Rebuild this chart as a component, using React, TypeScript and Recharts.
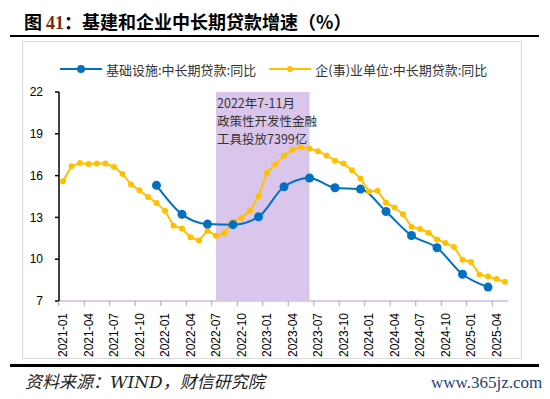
import React from "react";
import {
  LineChart,
  Line,
  XAxis,
  YAxis,
  ReferenceArea,
} from "recharts";

const months = [
  "2021-01", "2021-02", "2021-03", "2021-04", "2021-05", "2021-06",
  "2021-07", "2021-08", "2021-09", "2021-10", "2021-11", "2021-12",
  "2022-01", "2022-02", "2022-03", "2022-04", "2022-05", "2022-06",
  "2022-07", "2022-08", "2022-09", "2022-10", "2022-11", "2022-12",
  "2023-01", "2023-02", "2023-03", "2023-04", "2023-05", "2023-06",
  "2023-07", "2023-08", "2023-09", "2023-10", "2023-11", "2023-12",
  "2024-01", "2024-02", "2024-03", "2024-04", "2024-05", "2024-06",
  "2024-07", "2024-08", "2024-09", "2024-10", "2024-11", "2024-12",
  "2025-01", "2025-02", "2025-03", "2025-04", "2025-05",
];

// 企(事)业单位:中长期贷款:同比 (monthly)
const enterpriseLoans = [
  15.6, 16.67, 16.91, 16.84, 16.86, 16.86, 16.62, 16.12, 15.37, 14.94, 14.46, 14.04,
  13.47, 12.4, 12.2, 11.57, 11.34, 12.05, 11.69, 11.88, 12.69, 12.97, 13.47, 14.53,
  16.2, 16.84, 17.45, 17.85, 18.04, 17.95, 17.75, 17.45, 17.07, 16.86, 16.38, 15.79,
  14.85, 14.92, 14.06, 13.71, 13.23, 12.33, 12.17, 11.9, 11.41, 11.17, 10.87, 9.96,
  9.8, 8.9, 8.76, 8.57, 8.38,
];

// 基础设施:中长期贷款:同比 (quarterly)
const infraMonths = [
  "2021-12", "2022-03", "2022-06", "2022-09", "2022-12", "2023-03", "2023-06",
  "2023-09", "2023-12", "2024-03", "2024-06", "2024-09", "2024-12", "2025-03",
];
const infraLoans = [
  15.3, 13.22, 12.52, 12.48, 13.04, 15.2, 15.83, 15.13, 15.03, 13.42, 11.7, 10.82, 8.92, 8.0,
];

const yTicks = [7, 10, 13, 16, 19, 22];

const BLUE = "#0070C0";
const YELLOW = "#FFC000";
const SHADE = "#DAC6EB";

const data = months.map((m, i) => {
  const k = infraMonths.indexOf(m);
  return {
    month: m,
    enterprise: enterpriseLoans[i],
    infra: k >= 0 ? infraLoans[k] : null,
  };
});

const CJK = "'Noto Sans CJK SC', 'Noto Sans', sans-serif";
const NUM = "'Liberation Sans', Arial, sans-serif";

const BAND = 449 / 53;

const MonthTick = (props: any) => {
  const { x, y, payload } = props;
  const ty = y + 12;
  return (
    <g>
      <line x1={x - BAND / 2} y1={y} x2={x - BAND / 2} y2={y + 5} stroke="#a6a6a6" strokeWidth={1} />
      <text
        x={x}
        y={ty}
        transform={`rotate(-90, ${x}, ${ty})`}
        textAnchor="end"
        dominantBaseline="central"
        fontSize={12}
        fontFamily={NUM}
        fill="#000"
      >
        {payload.value}
      </text>
    </g>
  );
};

export default function App() {
  return (
    <div
      style={{
        position: "absolute",
        left: 0,
        top: 0,
        width: 550,
        height: 399,
        background: "#fff",
        overflow: "hidden",
      }}
    >
      <div
        style={{
          position: "absolute",
          left: 24,
          top: 8,
          fontSize: 18,
          fontWeight: 700,
          fontFamily: CJK,
          color: "#000",
          whiteSpace: "nowrap",
          lineHeight: "26px",
        }}
      >
        图 <span style={{ color: "#7a2810", fontFamily: "'Liberation Serif', serif" }}>41</span>：基建和企业中长期贷款增速（%）
      </div>
      <div style={{ position: "absolute", left: 10, top: 35, width: 529, height: 2, background: "#000" }} />
      <div
        style={{
          position: "absolute",
          left: 22,
          top: 41,
          width: 498,
          height: 316,
          border: "1px solid #d9d9d9",
        }}
      />

      {/* legend */}
      <div
        style={{
          position: "absolute",
          left: 60,
          top: 59,
          height: 20,
          display: "flex",
          alignItems: "center",
          fontFamily: CJK,
          fontSize: 13,
          color: "#333",
          whiteSpace: "nowrap",
        }}
      >
        <svg width={42} height={12} style={{ marginRight: 4 }}>
          <line x1={0} y1={6} x2={42} y2={6} stroke={BLUE} strokeWidth={2} />
          <circle cx={21} cy={6} r={4} fill={BLUE} />
        </svg>
        <span>基础设施:中长期贷款:同比</span>
        <svg width={42} height={12} style={{ marginLeft: 13, marginRight: 4 }}>
          <line x1={0} y1={6} x2={42} y2={6} stroke={YELLOW} strokeWidth={2} />
          <circle cx={21} cy={6} r={3} fill={YELLOW} />
        </svg>
        <span>企(事)业单位:中长期贷款:同比</span>
      </div>

      <div style={{ position: "absolute", left: 0, top: 0 }}>
        <LineChart
          width={550}
          height={399}
          data={data}
          margin={{ top: 92, right: 42, bottom: 38, left: 19 }}
        >
          <ReferenceArea
            x1="2022-07"
            x2="2023-06"
            y1={7}
            y2={22}
            fill={SHADE}
            fillOpacity={1}
            stroke="none"
            ifOverflow="extendDomain"
          />
          <XAxis
            dataKey="month"
            interval={2}
            padding={{ left: 4, right: 3 }}
            tick={<MonthTick />}
            tickLine={false}
            tickSize={0}
            tickMargin={0}
            height={60}
            axisLine={{ stroke: "#d9c9ec", strokeWidth: 2 }}
          />
          <YAxis
            domain={[7, 22]}
            ticks={yTicks}
            width={40}
            tickSize={4}
            tickMargin={12}
            tick={{ fontSize: 12, fontFamily: NUM, fill: "#000" }}
            axisLine={{ stroke: "#000", strokeWidth: 1.5 }}
            tickLine={{ stroke: "#000", strokeWidth: 1.5 }}
          />
          <Line
            dataKey="enterprise"
            type="linear"
            stroke={YELLOW}
            strokeWidth={2}
            dot={{ r: 3, fill: YELLOW, stroke: YELLOW, strokeWidth: 0 }}
            activeDot={false}
            isAnimationActive={false}
          />
          <Line
            dataKey="infra"
            type="monotone"
            connectNulls
            stroke={BLUE}
            strokeWidth={2}
            dot={{ r: 4.5, fill: BLUE, stroke: BLUE, strokeWidth: 0 }}
            activeDot={false}
            isAnimationActive={false}
          />
        </LineChart>
      </div>

      {/* annotation */}
      <div
        style={{
          position: "absolute",
          left: 217,
          top: 94,
          fontFamily: CJK,
          fontSize: 12.5,
          lineHeight: "17.8px",
          color: "#333",
          whiteSpace: "nowrap",
        }}
      >
        <div>2022年7-11月</div>
        <div>政策性开发性金融</div>
        <div>工具投放7399亿</div>
      </div>

      <div style={{ position: "absolute", left: 10, top: 364, width: 529, height: 2.5, background: "#000" }} />
      <div
        style={{
          position: "absolute",
          left: 25,
          top: 370,
          fontFamily: "'DejaVu Serif', 'Liberation Serif', 'Noto Sans CJK SC', serif",
          fontStyle: "italic",
          fontSize: 17,
          lineHeight: "24px",
          color: "#222",
          whiteSpace: "nowrap",
        }}
      >
        资料来源：WIND，财信研究院
      </div>
      <div
        style={{
          position: "absolute",
          left: 431,
          top: 372,
          fontFamily: "'Liberation Serif', serif",
          fontSize: 17,
          lineHeight: "22px",
          color: "#1f3f73",
          whiteSpace: "nowrap",
        }}
      >
        www.365jz.com
      </div>
    </div>
  );
}
